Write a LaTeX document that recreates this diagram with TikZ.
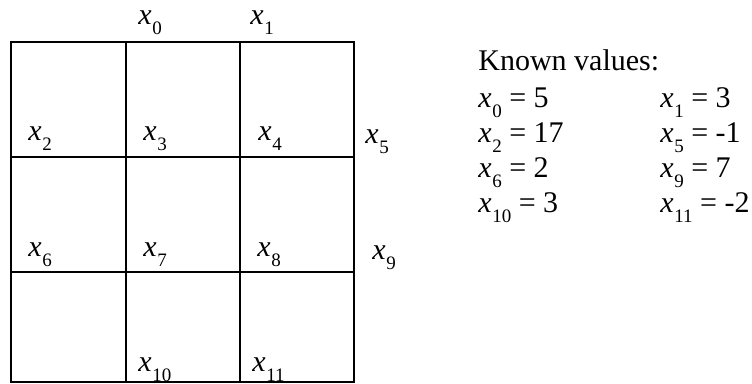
\documentclass[tikz,border=0pt]{standalone}
\usepackage{fontspec}
\setmainfont{Liberation Serif}
\usetikzlibrary{positioning}
\newcommand{\xsub}[1]{\textit{x}\kern0.3pt\raisebox{-0.32em}{\fontsize{9.5}{10}\selectfont #1}}

\begin{document}
\begin{tikzpicture}[
        x=0.5pt, y=0.5pt,
        grid/.style={line width=1.3pt},
        lab/.style={anchor=base west, inner sep=0pt, font=\fontsize{15}{18}\selectfont}
      ]
        \useasboundingbox (0,0) rectangle (752,384);
        % grid of cells
        \draw[grid] (11,342) rectangle (354,2);
        \foreach \gx in {126,240} \draw[grid] (\gx,342) -- (\gx,2);
        \foreach \gy in {227,112} \draw[grid] (11,\gy) -- (354,\gy);
        % unknowns on the grid
        \foreach \i/\lx/\ly in {0/138/359, 1/250/359, 2/28/243, 3/143/243, 4/258/243, 5/365/240,
                                6/28/127, 7/143/127, 8/257/127, 9/372/124, 10/138/12, 11/252/12}
          \node[lab] (x\i) at (\lx,\ly) {\xsub{\i}};
        % known values
        \node[lab] (known) at (478,313) {Known values:};
        \node[lab] (k0) at (478,276) {\xsub{0} = 5};
        \node[lab] (k2) at (478,241) {\xsub{2} = 17};
        \node[lab] (k6) at (478,206) {\xsub{6} = 2};
        \node[lab] (k10) at (478,171) {\xsub{10} = 3};
        \node[lab] (k1) at (660,276) {\xsub{1} = 3};
        \node[lab] (k5) at (660,241) {\xsub{5} = -1};
        \node[lab] (k9) at (660,206) {\xsub{9} = 7};
        \node[lab] (k11) at (660,171) {\xsub{11} = -2};
      \end{tikzpicture}
\end{document}
